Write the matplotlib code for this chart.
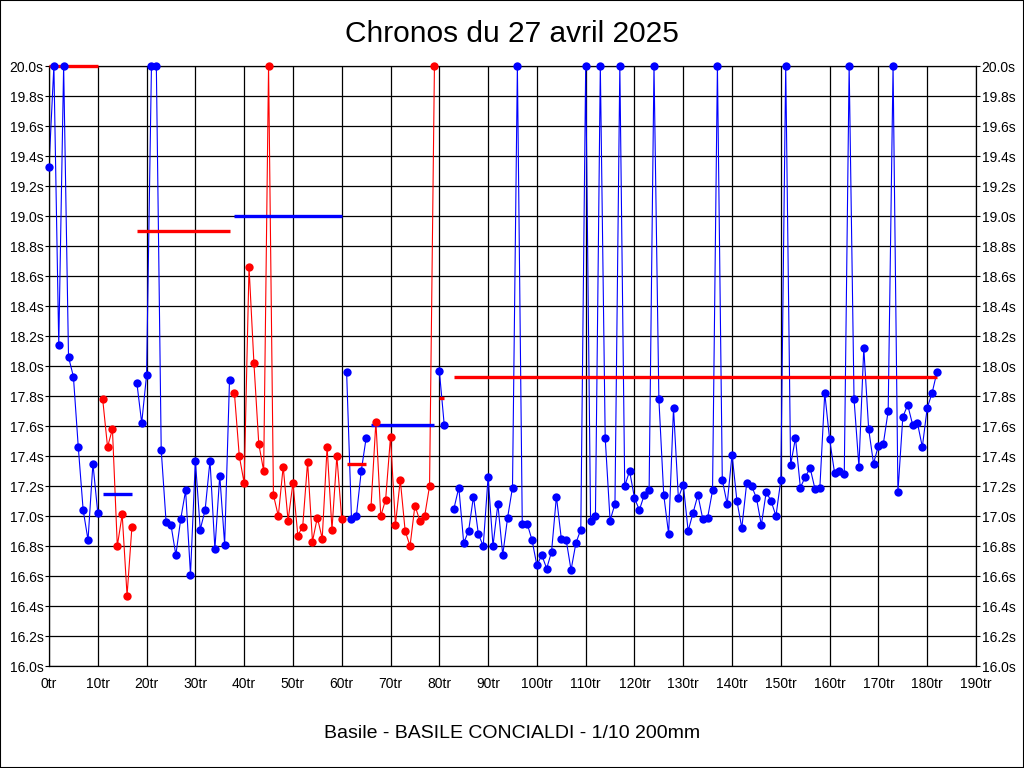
import numpy as np
import matplotlib
matplotlib.use("Agg")
import matplotlib.pyplot as plt
from matplotlib.patches import Rectangle

plt.rcParams['font.family'] = ['Liberation Sans', 'DejaVu Sans']

# relais : premier tour, couleur, temps au tour (s)
seg_start = [0, 11, 18, 38, 61, 66, 80, 83]
seg_color = ['blue', 'red', 'blue', 'red', 'blue', 'red', 'blue', 'blue']

s1 = [19.33, 20.0, 18.14, 20.0, 18.06, 17.93, 17.46, 17.04, 16.84, 17.35, 17.02]
s2 = [17.78, 17.46, 17.58, 16.80, 17.01, 16.47, 16.93]
s3 = [17.89, 17.62, 17.94, 20.0, 20.0, 17.44, 16.96, 16.94, 16.74, 16.98,
      17.17, 16.61, 17.37, 16.91, 17.04, 17.37, 16.78, 17.27, 16.81, 17.91]
s4 = [17.82, 17.40, 17.22, 18.66, 18.02, 17.48, 17.30, 20.0, 17.14, 17.00,
      17.33, 16.97, 17.22, 16.87, 16.93, 17.36, 16.83, 16.99, 16.85, 17.46,
      16.91, 17.40, 16.98]
s5 = [17.96, 16.98, 17.00, 17.30, 17.52]
s6 = [17.06, 17.63, 17.00, 17.11, 17.53, 16.94, 17.24, 16.90, 16.80, 17.07,
      16.97, 17.00, 17.20, 20.0]
s7 = [17.97, 17.61]
s8 = [17.05, 17.19, 16.82, 16.90, 17.13, 16.88, 16.80, 17.26, 16.80, 17.08,
      16.74, 16.99, 17.19, 20.0, 16.95, 16.95, 16.84, 16.67, 16.74, 16.65,
      16.76, 17.13, 16.85, 16.84, 16.64, 16.82, 16.91, 20.0, 16.97, 17.00,
      20.0, 17.52, 16.97, 17.08, 20.0, 17.20, 17.30, 17.12, 17.04, 17.14,
      17.17, 20.0, 17.78, 17.14, 16.88, 17.72, 17.12, 17.21, 16.90, 17.02,
      17.14, 16.98, 16.99, 17.17, 20.0, 17.24, 17.08, 17.41, 17.10, 16.92,
      17.22, 17.20, 17.12, 16.94, 17.16, 17.10, 17.00, 17.24, 20.0, 17.34,
      17.52, 17.19, 17.26, 17.32, 17.18, 17.19, 17.82, 17.51, 17.29, 17.30,
      17.28, 20.0, 17.78, 17.33, 18.12, 17.58, 17.35, 17.47, 17.48, 17.70,
      20.0, 17.16, 17.66, 17.74, 17.61, 17.62, 17.46, 17.72, 17.82, 17.96]
segments = [s1, s2, s3, s4, s5, s6, s7, s8]

# lignes de reference par relais
ref_start = [0, 11, 18, 38, 61, 66, 80, 83]
ref_end = [10, 17, 37, 60, 65, 79, 81, 182]
ref_val = [20.0, 17.15, 18.90, 19.0, 17.35, 17.605, 17.79, 17.93]
ref_color = ['red', 'blue', 'red', 'blue', 'red', 'blue', 'red', 'red']

yticks = np.arange(16.0, 20.01, 0.2)
xticks = np.arange(0, 191, 10)

fig = plt.figure(figsize=(10.24, 7.68), dpi=100)
ax = fig.add_axes([49 / 1024, 1 - 666 / 768, 927 / 1024, 600 / 768])

for start, col, vals in zip(seg_start, seg_color, segments):
    laps = np.arange(start, start + len(vals))
    ax.plot(laps, vals, '-', color=col, lw=0.8, zorder=2)
    ax.plot(laps, vals, 'o', color=col, ms=6, mew=0, zorder=4, clip_on=False)

for a, b, v, c in zip(ref_start, ref_end, ref_val, ref_color):
    ax.plot([a, b], [v, v], '-', color=c, lw=2.4, zorder=3,
            solid_capstyle='butt', clip_on=False)

ax.set_xlim(0, 190)
ax.set_ylim(16.0, 20.0)
ax.set_xticks(xticks)
ax.set_xticklabels(['%dtr' % t for t in xticks])
ax.set_yticks(yticks)
ax.set_yticklabels(['%.1fs' % t for t in yticks])

ax.grid(True, color='black', lw=0.9)
ax.set_axisbelow(True)
for sp in ax.spines.values():
    sp.set_color('black')
    sp.set_linewidth(0.9)

ax.tick_params(axis='x', length=0, pad=8, labelsize=10)
ax.tick_params(axis='y', length=3, pad=1, labelsize=10,
               right=True, labelright=True)

fig.text(0.5, 1 - 34 / 768, 'Chronos du 27 avril 2025', ha='center',
         va='center', fontsize=21.5)
fig.text(0.5, 1 - 733 / 768, 'Basile - BASILE CONCIALDI - 1/10 200mm',
         ha='center', va='center', fontsize=14)

fig.patches.append(Rectangle((0, 0), 1, 1, transform=fig.transFigure,
                             fill=False, edgecolor='black', lw=1.5))

fig.savefig('out.png', dpi=100)
